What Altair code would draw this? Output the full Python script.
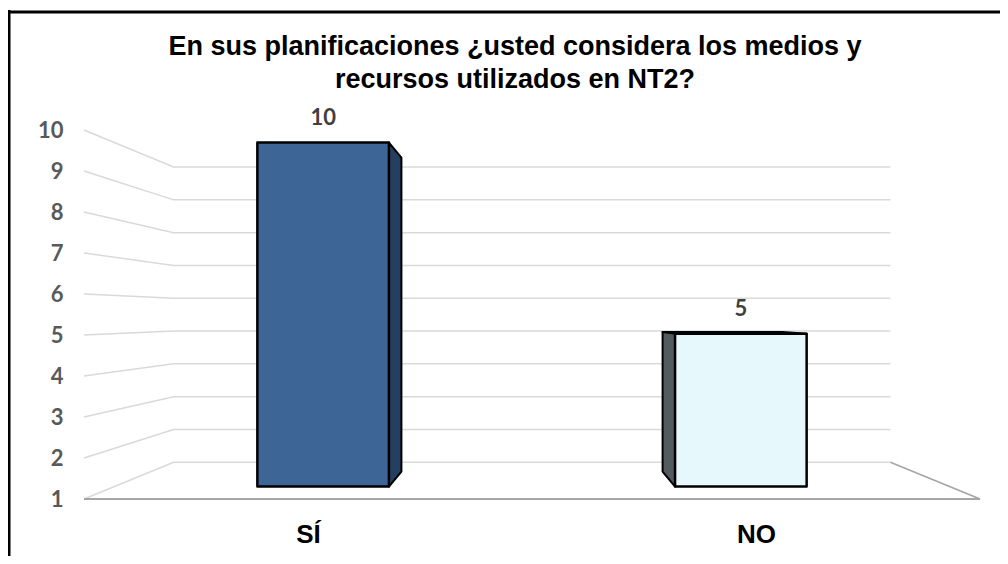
import altair as alt
import pandas as pd

# ---- data ----
categories = ["SÍ", "NO"]
values = [10, 5]
tick_values = [1, 2, 3, 4, 5, 6, 7, 8, 9, 10]
title_lines = ["En sus planificaciones ¿usted considera los medios y",
               "recursos utilizados en NT2?"]

# ---- styles ----
front_colors = ["#3d6596", "#e6f8fc"]
side_colors = ["#243f60", "#525b5d"]
top_colors = ["#2f5080", "#cfe6ec"]

# ---- simple 3D perspective model (category units / value units / depth) ----
VP_X = 1.0      # vanishing point, x (category units)
VP_V = 5.48     # eye level (value units)
K = 0.25        # depth foreshortening
BAR_W = 0.315   # bar width, category units
Z_FRONT = 0.29  # bar front depth
Z_BACK = 0.70   # bar back depth
FLOOR = 1       # axis minimum / floor value

XS = alt.Scale(domain=[0, 2], nice=False, zero=False)
YS = alt.Scale(domain=[1, 10], nice=False, zero=False)

label_expr = "[" + ",".join(f"'{c}'" for c in categories) + "][floor(datum.value)]"

AX = alt.Axis(
    values=[i + 0.5 for i in range(len(categories))], labelExpr=label_expr,
    labelFont="Liberation Sans", labelFontSize=26,
    labelFontWeight="bold", labelColor="#000000", labelBaseline="alphabetic",
    labelPadding=43, ticks=False, tickSize=0, domain=False, grid=False,
    labelFlush=False, labelOverlap=False, title=None)
AY = alt.Axis(
    values=tick_values, labelFont="Lato", labelFontSize=22,
    labelFontWeight="bold", labelColor="#595959", labelPadding=21,
    ticks=False, tickSize=0, domain=False, grid=False, labelFlush=False,
    labelOverlap=False, title=None)


def px(expr):
    return f"{VP_X} + (({expr}) - {VP_X}) / (1 + {K} * datum.gz)"


def pv(expr):
    return f"{VP_V} + (({expr}) - {VP_V}) / (1 + {K} * datum.gz)"


# gridlines: left wall + back wall for each tick
grid_rows = []
for t in tick_values:
    for o, (gx, gz) in enumerate([(0, 0), (0, 1), (2, 1)]):
        grid_rows.append(dict(tick=t, v=t, gx=gx, gz=gz, order=o))
grid_df = pd.DataFrame(grid_rows)

floor_rows = []
for o, (gx, gz) in enumerate([(0, 0), (2, 0), (2, 1)]):
    floor_rows.append(dict(tick=0, v=FLOOR, gx=gx, gz=gz, order=o))
floor_df = pd.DataFrame(floor_rows)

bar_df = pd.DataFrame({"cat": categories, "value": values,
                       "c": [i + 0.5 for i in range(len(categories))]})

depth_rows = []
for cat, val, i in zip(categories, values, range(len(categories))):
    for gz in (Z_FRONT, Z_BACK):
        depth_rows.append(dict(cat=cat, value=val, c=i + 0.5, gz=gz))
depth_df = pd.DataFrame(depth_rows)

grid = alt.Chart(grid_df).transform_calculate(
    px=px("datum.gx"), pv=pv("datum.v")
).mark_line(color="#d9d9d9", strokeWidth=1.5).encode(
    x=alt.X("px:Q", scale=XS, axis=AX),
    y=alt.Y("pv:Q", scale=YS, axis=AY),
    detail="tick:N",
    order="order:O",
)

floor = alt.Chart(floor_df).transform_calculate(
    px=px("datum.gx"), pv=pv("datum.v")
).mark_line(color="#a6a6a6", strokeWidth=1.8).encode(
    x=alt.X("px:Q", scale=XS, axis=AX),
    y=alt.Y("pv:Q", scale=YS, axis=AY),
    detail="tick:N",
    order="order:O",
)

top = alt.Chart(depth_df).transform_filter(
    f"datum.value < {VP_V}"
).transform_calculate(
    xl=px(f"datum.c - {BAR_W / 2}"), xr=px(f"datum.c + {BAR_W / 2}"),
    pt=pv("datum.value")
).mark_area(orient="horizontal", stroke="#000000", strokeWidth=2,
            strokeJoin="round").encode(
    y=alt.Y("pt:Q", scale=YS, axis=AY),
    x=alt.X("xl:Q", scale=XS, axis=AX),
    x2="xr:Q",
    fill=alt.Fill("cat:N", scale=alt.Scale(domain=categories, range=top_colors),
                  legend=None),
    detail="cat:N",
)

side = alt.Chart(depth_df).transform_calculate(
    edge=f"datum.c < {VP_X} ? datum.c + {BAR_W / 2} : datum.c - {BAR_W / 2}"
).transform_calculate(
    sx=px("datum.edge"), pt=pv("datum.value"), pb=pv(str(FLOOR))
).mark_area(stroke="#000000", strokeWidth=2, strokeJoin="round").encode(
    x=alt.X("sx:Q", scale=XS, axis=AX),
    y=alt.Y("pt:Q", scale=YS, axis=AY),
    y2="pb:Q",
    color=alt.Color("cat:N", scale=alt.Scale(domain=categories, range=side_colors),
                    legend=None),
    detail="cat:N",
)

front = alt.Chart(bar_df).transform_calculate(
    gz=str(Z_FRONT)
).transform_calculate(
    xl=px(f"datum.c - {BAR_W / 2}"), xr=px(f"datum.c + {BAR_W / 2}"),
    pt=pv("datum.value"), pb=pv(str(FLOOR))
).mark_rect(stroke="#000000", strokeWidth=2.5, strokeJoin="round").encode(
    x=alt.X("xl:Q", scale=XS, axis=AX),
    x2="xr:Q",
    y=alt.Y("pb:Q", scale=YS, axis=AY),
    y2="pt:Q",
    opacity=alt.value(1),
    stroke=alt.value("#000000"),
    fill=alt.Fill("cat:N", scale=alt.Scale(domain=categories, range=front_colors),
                  legend=None),
)

labels = alt.Chart(bar_df).transform_calculate(
    gz=str(Z_FRONT)
).transform_calculate(
    cx=px("datum.c"), pt=pv("datum.value")
).mark_text(dy=-25, font="Lato", fontSize=22, fontWeight="bold",
            color="#404040").encode(
    x=alt.X("cx:Q", scale=XS, axis=AX),
    y=alt.Y("pt:Q", scale=YS, axis=AY),
    text="value:Q",
)

one = pd.DataFrame({"a": [0]})
title = alt.Chart(one).mark_text(
    text=title_lines, font="Liberation Sans", fontSize=27, fontWeight="bold",
    color="#000000", align="center", baseline="alphabetic", lineHeight=33
).encode(x=alt.value(431), y=alt.value(-75))
border_top = alt.Chart(one).mark_rule(color="#000000", strokeWidth=3).encode(
    x=alt.value(-80), x2=alt.value(930), y=alt.value(-118))
border_left = alt.Chart(one).mark_rule(color="#000000", strokeWidth=3).encode(
    x=alt.value(-75), y=alt.value(-120), y2=alt.value(440))

chart = alt.layer(
    grid, floor, top, side, front, labels, title, border_top, border_left
).resolve_scale(
    color="independent", fill="independent"
).properties(
    width=896, height=369,
    autosize=alt.AutoSizeParams(type="none"),
    padding={"left": 76, "top": 122, "right": 20, "bottom": 57},
    background="#ffffff",
).configure_view(stroke=None)

chart.save("out.html", embed_options={"renderer": "svg", "actions": False})
